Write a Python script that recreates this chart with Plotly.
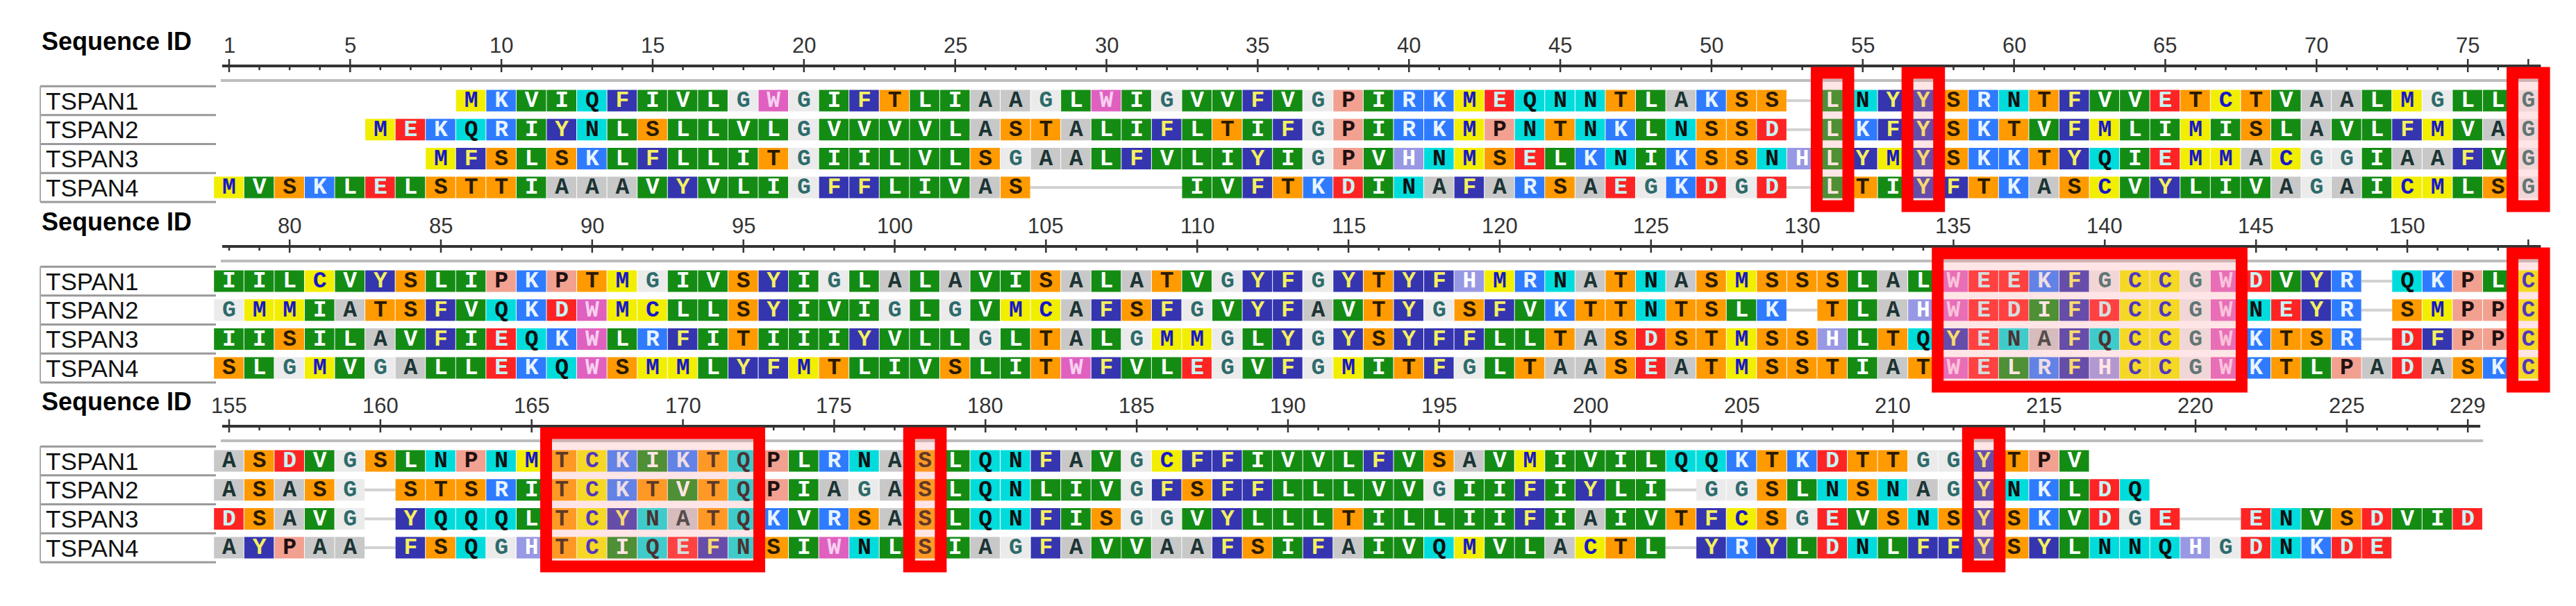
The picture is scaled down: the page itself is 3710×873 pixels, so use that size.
import plotly.graph_objects as go

names = ["TSPAN1", "TSPAN2", "TSPAN3", "TSPAN4"]
# aligned sequences, columns 1..229 ('.' = outside sequence, '-' = internal gap)
TSPAN1 = ("." * 8 + "MKVIQFIVLGWGIFT" + "LIAAGLWIGVVFVGPIRKMEQNNTLAKSS" + "-" + "LNYYSRNTFVVETCTVAALMGLLG"
          + "IILCVYSLIPKPTMGIVSYIGLA" + "LAVISALATVGYFGYTYFHMRNATNASMS" + "SSLALWEEKFGCCGWDVYR" + "-" + "QKPLC"
          + "ASDVGSLNPNMTCKIKTQPLRNA" + "SLQNFAVGCFFIVVLFVSAVMIVILQQKT" + "KDTTGGYTPV" + "." * 13)
TSPAN2 = ("." * 5 + "MEKQRIYNLSLLVLGVVV" + "VLASTALIFLTIFGPIRKMPNTNKLNSSD" + "-" + "LKFYSKTVFMLIMISLAVLFMVAG"
          + "GMMIATSFVQKDWMCLLSYIVIG" + "LGVMCAFSFGVYFAVTYGSFVKTTNTSLK" + "-" + "TLAHWEDIFDCCGWNEYR" + "-" + "SMPPC"
          + "ASASG" + "-" + "STSRITCKTVTQPIAGA" + "SLQNLIVGFSFFLLLVVGIIFIYLI" + "-" + "GGSLNSNAGYNKLDQ" + "." * 11)
TSPAN3 = ("." * 7 + "MFSLSKLFLLITGIIL" + "VLSGAALFVLIYIGPVHNMSELKNIKSSN" + "HLYMYSKKTYQIEMMACGGIAAFVG"
          + "IISILAVFIEQKWLRFITIIIYV" + "LLGLTALGMMGLYGYSYFFLLTASDSTMS" + "SHLTQYENAFQCCGWKTSR" + "-" + "DFPPC"
          + "DSAVG" + "-" + "YQQQLTCYNATQKVRSA" + "SLQNFISGGVYLLLTILLIIFIAIVTFCS" + "GEVSNSYSKVDGE" + "--" + "ENVSDVID")
TSPAN4 = ("MVSKLELSTTIAAAVYVLIGFFL" + "IVAS" + "-----" + "IVFTKDINAFARSAEGKDGD" + "-" + "LTIYFTKASCVYLIVAGAICMLSG"
          + "SLGMVGALLEKQWSMMLYFMTLI" + "VSLITWFVLEGVFGMITFGLTAASEATMS" + "STIATWELRFHCCGWKTLPADASKC"
          + "AYPAA" + "-" + "FSQGHTCIQEFNSIWNL" + "SIAGFAVVAAFSIFAIVQMVLACTL" + "-" + "YRYLDNLFFYSYLNNQHGDNKDE" + "." * 3)
seqs = [TSPAN1, TSPAN2, TSPAN3, TSPAN4]
block_starts = [1, 78, 155]
block_ends = [77, 154, 229]
block_tick_labels = [[1] + list(range(5, 80, 5)), list(range(80, 155, 5)), list(range(155, 229, 5)) + [229]]
highlight_ranges = [(54, 54), (57, 57), (77, 77), (135, 144), (154, 154), (166, 172), (178, 178), (213, 213)]

# style
colors = {
    "ILV": ("#148c14", "#ffffff"), "A": ("#c8c8c8", "#1c3434"), "G": ("#ebebeb", "#2e6b6b"),
    "ST": ("#ff9a00", "#2a1a00"), "NQ": ("#00dcdc", "#101010"), "KR": ("#2f7bff", "#e8f4ff"),
    "DE": ("#ff2424", "#c8f4f4"), "FY": ("#3535b0", "#f4f060"), "MC": ("#f2ee00", "#1818c8"),
    "W": ("#e060c0", "#f8d0f0"), "H": ("#9898e4", "#ffffff"), "P": ("#f2a090", "#201010"),
}
X0, CW, CH = 322.0, 43.57, 31.0
ruler_y = [87, 347, 606]
ROWSTEP = 41.7

def cx(col, b):
    return X0 + (col - block_starts[b]) * CW

def rowy(b, i):
    return ruler_y[b] + 50 + i * ROWSTEP

fig = go.Figure()
shapes = []
annotations = []

for grp, (bg, fg) in colors.items():
    xs, ys, tx, ty, tt = [], [], [], [], []
    for i, s in enumerate(seqs):
        for c0, ch in enumerate(s):
            if ch not in grp:
                continue
            col = c0 + 1
            b = (col - 1) // 77
            x, y = cx(col, b), rowy(b, i)
            xs += [x - CW / 2, x + CW / 2 - 1, x + CW / 2 - 1, x - CW / 2, x - CW / 2, None]
            ys += [y - CH / 2, y - CH / 2, y + CH / 2, y + CH / 2, y - CH / 2, None]
            tx.append(x); ty.append(y + 1); tt.append(ch)
    fig.add_trace(go.Scatter(x=xs, y=ys, fill="toself", fillcolor=bg, mode="lines",
                             line=dict(width=0, color=bg), hoverinfo="skip", showlegend=False))
    fig.add_trace(go.Scatter(x=tx, y=ty, mode="text", text=tt, hoverinfo="skip", showlegend=False,
                             textfont=dict(family="Liberation Mono", size=33, color=fg, weight="bold")))

for i, s in enumerate(seqs):
    for c0, ch in enumerate(s):
        if ch == "-":
            col = c0 + 1
            b = (col - 1) // 77
            x, y = cx(col, b), rowy(b, i)
            shapes.append(dict(type="line", x0=x - CW / 2 - 1, x1=x + CW / 2, y0=y, y1=y,
                               line=dict(color="#d2d2d2", width=4), layer="below"))

for b in range(3):
    ry = ruler_y[b]
    xs_end = cx(block_ends[b], b) + 18
    annotations.append(dict(x=50, y=ry - 36, text="<b>Sequence ID</b>", showarrow=False, xanchor="left",
                            font=dict(family="Liberation Sans Narrow, Liberation Sans", size=36, color="#000")))
    shapes.append(dict(type="line", x0=X0 - 10, x1=xs_end, y0=ry, y1=ry, line=dict(color="#333", width=4)))
    for col in range(block_starts[b], block_ends[b] + 1):
        major = col in block_tick_labels[b] or col == block_ends[b]
        shapes.append(dict(type="line", x0=cx(col, b), x1=cx(col, b), y0=ry - (10 if major else 2),
                           y1=ry + (9 if major else 6), line=dict(color="#333", width=2.5)))
    for t in block_tick_labels[b]:
        annotations.append(dict(x=cx(t, b), y=ry - 30, text=str(t), showarrow=False,
                                font=dict(family="Liberation Sans Narrow, Liberation Sans", size=31, color="#333")))
    shapes.append(dict(type="line", x0=X0 - 12, x1=xs_end + 4, y0=ry + 21, y1=ry + 21,
                       line=dict(color="#bdbdbd", width=4)))
    for i, nm in enumerate(names):
        y = rowy(b, i)
        annotations.append(dict(x=56, y=y, text=nm, showarrow=False, xanchor="left",
                                font=dict(family="Liberation Sans Narrow, Liberation Sans", size=35, color="#111")))
        shapes.append(dict(type="line", x0=50, x1=303, y0=y - ROWSTEP / 2, y1=y - ROWSTEP / 2,
                           line=dict(color="#999", width=3)))
    shapes.append(dict(type="line", x0=50, x1=303, y0=rowy(b, 3) + ROWSTEP / 2, y1=rowy(b, 3) + ROWSTEP / 2,
                       line=dict(color="#999", width=3)))
    shapes.append(dict(type="line", x0=50, x1=50, y0=rowy(b, 0) - ROWSTEP / 2, y1=rowy(b, 3) + ROWSTEP / 2,
                       line=dict(color="#aaa", width=2)))

for a, e in highlight_ranges:
    b = (a - 1) // 77
    x0, x1 = cx(a, b) - CW / 2 - 1, cx(e, b) + CW / 2 + 1
    y0, y1 = ruler_y[b] + 10, rowy(b, 3) + 27
    shapes.append(dict(type="rect", x0=x0, x1=x1, y0=y0, y1=y1, fillcolor="rgba(255,150,150,0.25)",
                       line=dict(color="#ff0000", width=17)))

fig.update_layout(width=3710, height=873, margin=dict(l=0, r=0, t=0, b=0),
                  paper_bgcolor="white", plot_bgcolor="white", shapes=shapes, annotations=annotations,
                  xaxis=dict(range=[0, 3710], visible=False, fixedrange=True),
                  yaxis=dict(range=[873, 0], visible=False, fixedrange=True))
fig.write_html("out.html")
